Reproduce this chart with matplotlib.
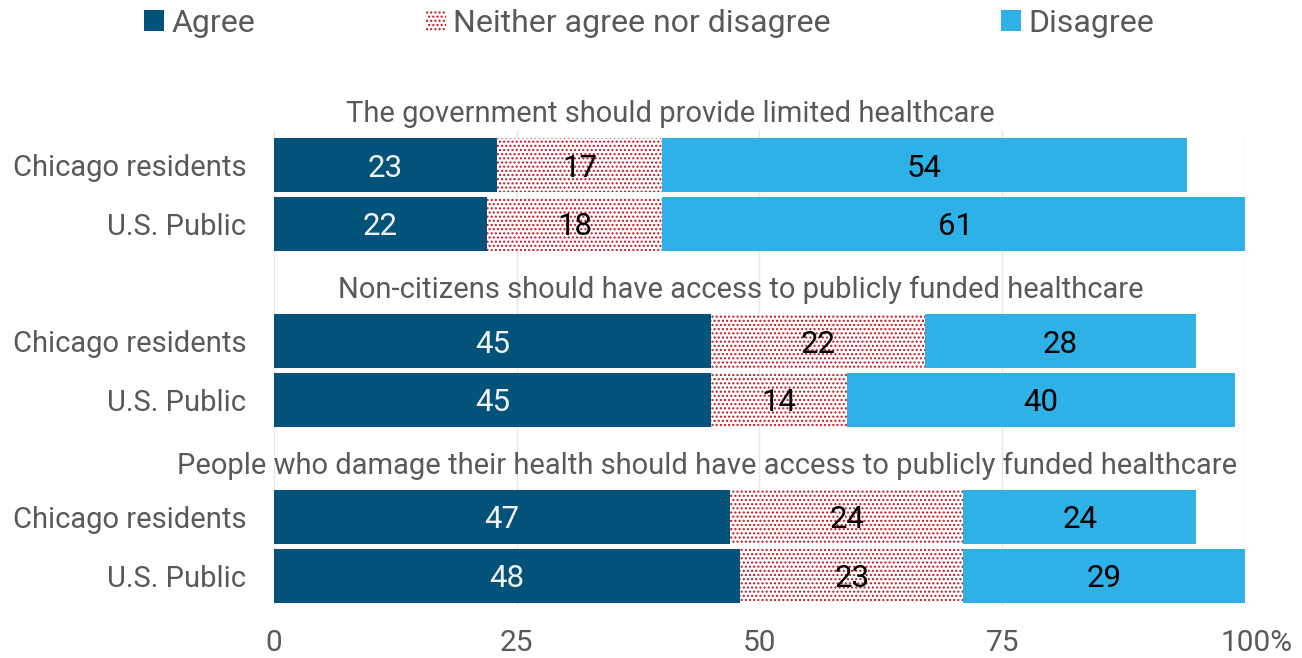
import numpy as np
import matplotlib.pyplot as plt
from matplotlib.patches import Patch
from matplotlib.transforms import ScaledTranslation

plt.rcParams["font.family"] = ["Roboto", "DejaVu Sans"]
plt.rcParams["hatch.color"] = "#C0141E"
plt.rcParams["hatch.linewidth"] = 1.0

# survey questions (one group each) and the two populations
questions = [
    "The government should provide limited healthcare",
    "Non-citizens should have access to publicly funded healthcare",
    "People who damage their health should have access to publicly funded healthcare",
]
groups = ["Chicago residents", "U.S. Public"]

# bar lengths, order: q1 chicago, q1 us, q2 chicago, ...
agree = [23, 21.9, 45, 45, 47, 48]
neither = [17, 18.1, 22, 14, 24, 23]
disagree = [54, 60.3, 28, 40, 24, 29]

# printed labels
agree_lbl = [23, 22, 45, 45, 47, 48]
neither_lbl = [17, 18, 22, 14, 24, 23]
disagree_lbl = [54, 61, 28, 40, 24, 29]

title_x = [40.8, 48.1, 44.6]      # where each question title is centred
xticks = [0, 25, 50, 75, 100]
xticklabels = ["0", "25", "50", "75", "100%"]

C_AGREE = "#03527A"
C_DIS = "#2DB1E6"
RED = "#C0141E"
GREY = "#595959"

fig = plt.figure(figsize=(13.02, 6.58), dpi=100)
ax = fig.add_axes([274 / 1302, 53 / 658, 971 / 1302, 475 / 658])

ypos = np.array([g * 3 + r for g in range(len(questions)) for r in range(len(groups))])
h = 0.92

ax.barh(ypos, agree, height=h, color=C_AGREE, linewidth=0)
left2 = np.array(agree)
ax.barh(ypos, neither, left=left2, height=h, color="white", hatch="....",
        edgecolor=RED, linewidth=0)
left3 = left2 + np.array(neither)
ax.barh(ypos, disagree, left=left3, height=h, color=C_DIS, linewidth=0)

for i, y in enumerate(ypos):
    ty = y + 0.05   # nudge: Roboto's centre sits a touch high
    ax.text(agree[i] / 2, ty, str(agree_lbl[i]), ha="center", va="center",
            color="#F2F2F2", fontsize=22.5)
    ax.text(left2[i] + neither[i] / 2, ty, str(neither_lbl[i]), ha="center",
            va="center", color="black", fontsize=22.5)
    ax.text(left3[i] + disagree[i] / 2, ty, str(disagree_lbl[i]), ha="center",
            va="center", color="black", fontsize=22.5)

for g, q in enumerate(questions):
    ax.text(title_x[g], g * 3 - 0.88, q, ha="center", va="center",
            color=GREY, fontsize=21, clip_on=False)

ax.set_xlim(0, 100)
ax.set_ylim(7.5, -0.6)
ax.set_yticks(ypos)
ax.set_yticklabels(groups * len(questions), color=GREY, fontsize=21)
ax.set_xticks(xticks)
ax.set_xticklabels(xticklabels, color=GREY, fontsize=21.5)
ax.tick_params(length=0, axis="both")
ax.tick_params(axis="y", pad=20)
ax.tick_params(axis="x", pad=17)
last = ax.get_xticklabels()[-1]
last.set_transform(last.get_transform() + ScaledTranslation(0.12, 0, fig.dpi_scale_trans))
ax.grid(axis="x", color="#E6E6E6", linewidth=1)
ax.set_axisbelow(True)
for s in ax.spines.values():
    s.set_visible(False)

handles = [
    Patch(facecolor=C_AGREE, linewidth=0),
    Patch(facecolor="white", hatch="....", edgecolor=RED, linewidth=0),
    Patch(facecolor=C_DIS, linewidth=0),
]
fig.legend(handles, ["Agree", "Neither agree nor disagree", "Disagree"],
           loc="center", bbox_to_anchor=(649 / 1302, 1 - 23 / 658), ncol=3,
           frameon=False, fontsize=23, handlelength=0.62, handleheight=0.62,
           handletextpad=0.22, columnspacing=5.35, labelcolor=GREY)

fig.savefig("out.png", dpi=100)
